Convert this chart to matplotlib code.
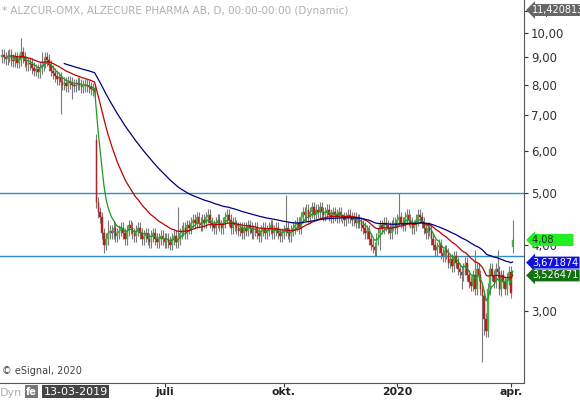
import matplotlib
matplotlib.use("Agg")
import matplotlib.pyplot as plt
from matplotlib.ticker import FixedLocator, NullLocator
import numpy as np
import pandas as pd

closes = [
 9.1, 9.0, 8.95, 9.05, 9.1, 8.9, 8.85, 9.0, 8.8, 8.9, 9.2, 9.0, 8.85, 8.7, 8.8, 8.75,
 8.6, 8.5, 8.55, 8.45, 8.6, 8.7, 8.8, 9.0, 8.9, 8.7, 8.5, 8.4, 8.3, 8.2, 8.25, 8.1,
 8.0, 8.05, 7.95, 8.1, 8.05, 8.0, 7.95, 8.0, 8.05, 8.0, 7.9, 7.95, 8.0, 7.95, 7.9, 7.85, 7.8, 7.75,
 4.8,
 4.6, 4.5, 4.2, 4.0, 4.1, 4.2,
 4.25, 4.2, 4.3, 4.15, 4.2, 4.25, 4.3, 4.2, 4.1, 4.25, 4.35, 4.3, 4.2, 4.15, 4.25, 4.3, 4.2, 4.1, 4.15, 4.2, 4.1, 4.05, 4.15, 4.2, 4.1, 4.05, 4.1, 4.15, 4.1,
 4.05, 4.1, 4.05, 4.0, 4.1, 4.15, 4.05, 4.1, 4.2, 4.25, 4.3, 4.2, 4.35, 4.3, 4.4,
 4.45, 4.4, 4.5, 4.4, 4.35, 4.45, 4.4, 4.5, 4.55, 4.4, 4.35, 4.3, 4.4, 4.45, 4.35, 4.3, 4.4, 4.5, 4.55, 4.45, 4.3, 4.4, 4.35, 4.3, 4.25, 4.3,
 4.2, 4.3, 4.25, 4.35, 4.3, 4.2, 4.25, 4.3, 4.2, 4.15, 4.25, 4.3, 4.2, 4.25, 4.3, 4.35, 4.2, 4.25, 4.3, 4.2, 4.15, 4.2, 4.25, 4.3, 4.2, 4.15, 4.25, 4.3, 4.35, 4.4, 4.3, 4.5, 4.6, 4.55, 4.65, 4.5,
 4.6, 4.7, 4.55, 4.65, 4.6, 4.7, 4.6, 4.55, 4.6, 4.65, 4.55, 4.5, 4.6, 4.55, 4.5, 4.6, 4.55, 4.5, 4.45, 4.5, 4.55, 4.5, 4.45, 4.5, 4.4, 4.45, 4.4,
 4.35, 4.3, 4.2, 4.25, 4.1, 4.0, 3.95, 3.9, 4.1, 4.2, 4.35, 4.3, 4.4, 4.35, 4.3, 4.2,
 4.35, 4.4, 4.3, 4.45, 4.5, 4.4, 4.35, 4.5, 4.55, 4.45, 4.4, 4.3, 4.35, 4.45, 4.55, 4.5, 4.4, 4.3, 4.2, 4.3, 4.25,
 4.1, 4.0, 3.9, 3.95, 4.0, 3.85, 3.8, 3.9, 3.85, 3.7, 3.75, 3.65, 3.8, 3.7, 3.6, 3.55, 3.5, 3.6, 3.7, 3.5, 3.4,
 3.35, 3.5, 3.3, 3.6, 3.5, 3.3, 3.2, 2.9, 2.75, 3.3, 3.6,
 3.5, 3.4, 3.6, 3.55, 3.3, 3.5, 3.4, 3.3, 3.45, 3.55, 3.25, 4.08,
]
first_open = 9.0
open_overrides = {50: 6.3, 270: 3.95}
high_spikes = {10: 9.8, 21: 9.2, 56: 4.45, 93: 4.7, 150: 4.95, 180: 4.45, 210: 5.0, 250: 3.9, 262: 3.9, 270: 4.45}
low_spikes = {31: 7.05, 37: 7.5, 54: 3.85, 200: 3.9, 243: 3.3, 254: 2.4, 255: 2.7, 264: 3.2}

tick_pos = [86, 149, 209, 269]
tick_lab = ["juli", "okt.", "2020", "apr."]
price_ticks = [3, 4, 5, 6, 7, 8, 9, 10, 11]
hlines = [5.0, 3.80]

c = np.array(closes)
n = len(c)
o = np.concatenate([[first_open], c[:-1]])
for k, v in open_overrides.items():
    o[k] = v
hi = np.maximum(o, c) * 1.025
lo = np.minimum(o, c) * 0.975
for k, v in high_spikes.items():
    hi[k] = v
for k, v in low_spikes.items():
    lo[k] = v

s = pd.Series(c)
ema_g = s.ewm(span=7, adjust=False).mean()
ema_r = s.ewm(span=25, adjust=False).mean()
ema_b = s.ewm(span=60, adjust=False).mean()

fig = plt.figure(figsize=(5.8, 4.0), dpi=100)
ax = fig.add_axes([0, 17/400, 524/580, 383/400])
ax.set_yscale("log")
ax.set_ylim(2.196, 11.54)
ax.set_xlim(-1, 276)

for h in hlines:
    ax.axhline(h, color="#2a8fc4", lw=1.0, zorder=1)

x = np.arange(n)
ax.vlines(x, lo, hi, color="#7a7a7a", lw=0.8, zorder=2)
up = c >= o
body_lo = np.minimum(o, c)
body_h = np.maximum(np.abs(c - o), 0.02)
ax.bar(x[up], body_h[up], bottom=body_lo[up], width=0.85, color="#4cae4c", edgecolor="#4cae4c", lw=0.3, zorder=3)
ax.bar(x[~up], body_h[~up], bottom=body_lo[~up], width=0.85, color="#b22222", edgecolor="#b22222", lw=0.3, zorder=3)

ax.plot(x[3:], ema_g[3:], color="#1f9a1f", lw=0.9, zorder=4)
ax.plot(x[5:], ema_r[5:], color="#c00000", lw=0.9, zorder=4)
ax.plot(x[33:], ema_b[33:], color="#000080", lw=0.9, zorder=4)

ax.yaxis.tick_right()
ax.yaxis.set_major_locator(FixedLocator(price_ticks))
ax.yaxis.set_minor_locator(NullLocator())
ax.set_yticklabels([f"{v:.2f}".replace(".", ",") for v in price_ticks], fontsize=8.5, color="#333333")
ax.tick_params(axis="y", length=3, pad=2, color="#333333")
ax.set_xticks(tick_pos)
ax.set_xticklabels(tick_lab, fontsize=7.8, fontweight="bold", color="#222222")
ax.tick_params(axis="x", length=3, pad=0, color="#333333")
for sp in ["top", "left"]:
    ax.spines[sp].set_visible(False)
ax.spines["right"].set_color("#555555")
ax.spines["bottom"].set_color("#555555")

fig.text(0.004, 0.985, "* ALZCUR-OMX, ALZECURE PHARMA AB, D, 00:00-00:00 (Dynamic)", fontsize=7.5, color="#b0b0b0", va="top")
fig.text(0.004, 0.06, "© eSignal, 2020", fontsize=7, color="#444444", va="bottom")
fig.text(0.0, 0.005, "Dyn", fontsize=8, color="#b0b0b0", va="bottom")
fig.text(0.045, 0.008, "fe", fontsize=7, color="white", va="bottom", fontweight="bold",
         bbox=dict(boxstyle="square,pad=0.15", fc="#777777", ec="none"))
fig.text(0.075, 0.008, "13-03-2019", fontsize=8, color="white", va="bottom",
         bbox=dict(boxstyle="square,pad=0.15", fc="#444444", ec="none"))

def marker(val, txt, fc, tc="white"):
    ax.annotate(txt, xy=(1.0, val), xycoords=("axes fraction", "data"),
                xytext=(6, 0), textcoords="offset points", va="center", ha="left",
                fontsize=7, color=tc, annotation_clip=False, zorder=10,
                bbox=dict(boxstyle="larrow,pad=0.1", fc=fc, ec="none"))

marker(11.05, "11,420813", "#666666")
marker(4.08, "4,08      ", "#22ee22", "#222222")
marker(3.70, "3,671874", "#1010dd")
marker(3.50, "3,526471", "#127012")

fig.savefig("out.png", dpi=100, facecolor="white")
